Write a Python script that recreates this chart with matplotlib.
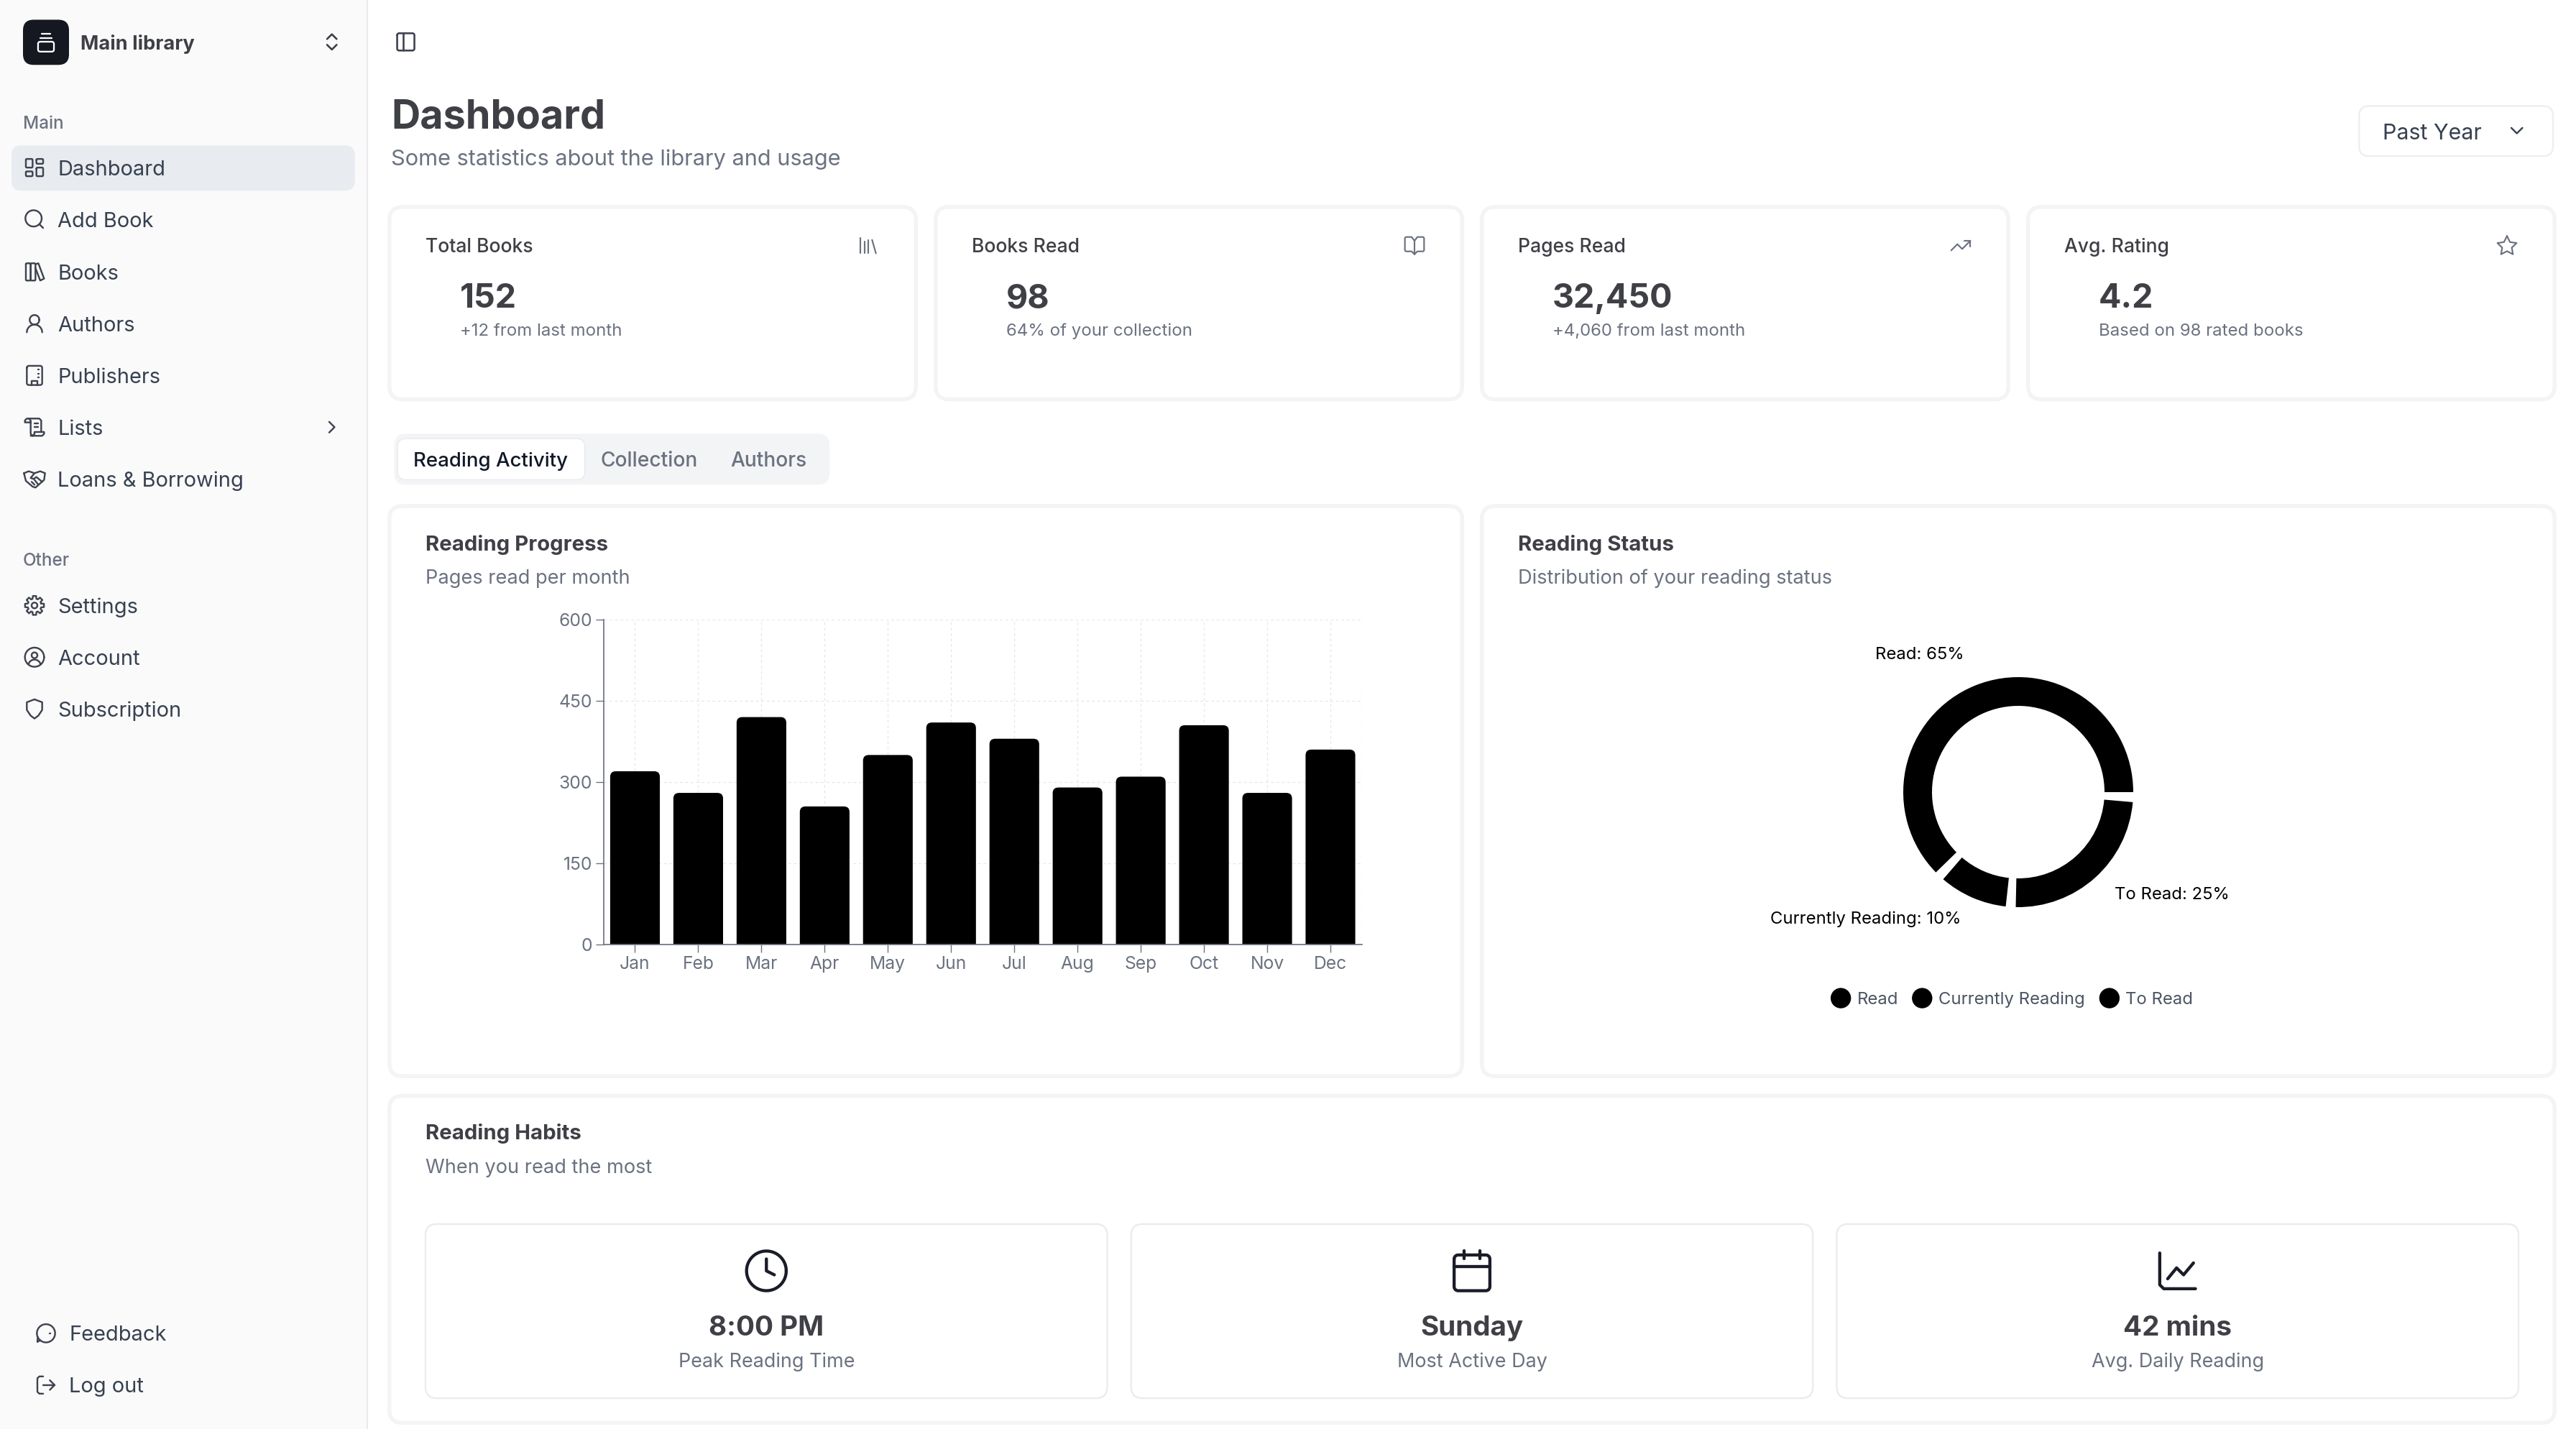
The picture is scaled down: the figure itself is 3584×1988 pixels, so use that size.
import numpy as np
import matplotlib
matplotlib.use('Agg')
import matplotlib.pyplot as plt
from matplotlib.patches import FancyBboxPatch, Wedge, Circle
from matplotlib.lines import Line2D

plt.rcParams['font.family'] = ['Inter', 'DejaVu Sans']

W, H = 3584, 1988
S = W / 1568      # one layout unit in image pixels
PT = S * 72 / 100  # one layout unit in points

months = ['Jan', 'Feb', 'Mar', 'Apr', 'May', 'Jun', 'Jul', 'Aug', 'Sep', 'Oct', 'Nov', 'Dec']
pages_read = [320, 280, 420, 255, 350, 410, 380, 290, 310, 405, 280, 360]
y_ticks = [0, 150, 300, 450, 600]

status_names = ['Read', 'Currently Reading', 'To Read']
status_values = [65, 10, 25]

nav_main = ['Dashboard', 'Add Book', 'Books', 'Authors', 'Publishers', 'Lists', 'Loans & Borrowing']
nav_other = ['Settings', 'Account', 'Subscription']
stat_titles = ['Total Books', 'Books Read', 'Pages Read', 'Avg. Rating']
stat_values = ['152', '98', '32,450', '4.2']
stat_notes = ['+12 from last month', '64% of your collection', '+4,060 from last month', 'Based on 98 rated books']
habit_values = ['8:00 PM', 'Sunday', '42 mins']
habit_labels = ['Peak Reading Time', 'Most Active Day', 'Avg. Daily Reading']

INK = '#3f4046'
DARK = '#374151'
MUTED = '#6b7280'
LINE = '#f3f4f6'
ICON = '#3f4350'

fig = plt.figure(figsize=(W / 100, H / 100), dpi=100, facecolor='white')
ui = fig.add_axes([0, 0, 1, 1])
ui.set_xlim(0, 1568)
ui.set_ylim(H / S, 0)
ui.axis('off')


def txt(x, y, s, size, color=INK, weight='normal', ha='left'):
    # y is the middle of the capitals, so mixed strings share one baseline
    ui.text(x, y + 0.36 * size, s, fontsize=size * PT, color=color, weight=weight,
            ha=ha, va='baseline', zorder=5)


def box(x0, y0, x1, y1, r=8, fc='white', ec='none', lw=0, z=1):
    ui.add_patch(FancyBboxPatch((x0, y0), x1 - x0, y1 - y0,
                                boxstyle=f'round,pad=0,rounding_size={r}',
                                fc=fc, ec=ec, lw=lw * PT, zorder=z))


def arc(cx, cy, r, a0=0, a1=360, n=48):
    t = np.radians(np.linspace(a0, a1, n))
    return list(zip(cx + r * np.cos(t), cy + r * np.sin(t)))


def rrect(x, y, w, h, r=1):
    return (arc(x + r, y + r, r, 180, 270, 6) + arc(x + w - r, y + r, r, 270, 360, 6)
            + arc(x + w - r, y + h - r, r, 0, 90, 6) + arc(x + r, y + h - r, r, 90, 180, 6)
            + [(x, y + r)])


def gear():
    pts = []
    for i in range(8):
        a = 45 * i
        for da, rad in [(-16, 7.2), (-10, 10), (10, 10), (16, 7.2)]:
            t = np.radians(a + da)
            pts.append((12 + rad * np.cos(t), 12 + rad * np.sin(t)))
    return pts + pts[:1]


# icons on a 24 unit grid, each one a list of polylines
ICONS = {
    'Dashboard': [rrect(3, 3, 7, 9), rrect(14, 3, 7, 5), rrect(14, 12, 7, 9), rrect(3, 16, 7, 5)],
    'Add Book': [arc(11, 11, 8.5), [(21, 21), (17, 17)]],
    'Books': [rrect(3, 3, 5, 18), rrect(8, 3, 5, 18), [(13, 4), (16, 3), (22, 19), (18, 21), (13, 8)]],
    'Authors': [arc(12, 8, 5), arc(12, 21, 8, 180, 360, 20)],
    'Publishers': [rrect(4, 2, 16, 20, 2), [(9, 22), (9, 18), (15, 18), (15, 22)],
                   [(8, 6), (8.2, 6)], [(12, 6), (12.2, 6)], [(16, 6), (16.2, 6)],
                   [(8, 10), (8.2, 10)], [(12, 10), (12.2, 10)], [(16, 10), (16.2, 10)],
                   [(8, 14), (8.2, 14)], [(12, 14), (12.2, 14)], [(16, 14), (16.2, 14)]],
    'Lists': [[(8, 21), (20, 21), (22, 19), (22, 17), (12, 17), (12, 19), (10, 21), (8, 19), (8, 5), (6, 3), (4, 3), (2, 5), (2, 7), (8, 7)],
              [(6, 3), (17, 3), (19, 5), (19, 17)], [(12, 8), (16, 8)], [(12, 12), (16, 12)]],
    'Loans & Borrowing': [[(1, 6), (6, 4), (12, 6), (18, 4), (23, 6), (22, 13), (13, 21), (10, 20), (3, 14), (1, 6)],
                          [(12, 6), (8, 11), (11, 12), (14, 10), (20, 15)], [(9, 15), (12, 18)], [(12, 13), (16, 18)]],
    'Settings': [gear(), arc(12, 12, 3)],
    'Account': [arc(12, 12, 10), arc(12, 10, 3), arc(12, 21, 6.5, 200, 340, 14)],
    'Subscription': [[(12, 2), (20, 5), (20, 13), (16, 19), (12, 22), (8, 19), (4, 13), (4, 5), (12, 2)]],
    'Feedback': [arc(12, 12, 9.5, 130, 490), [(5.9, 19.3), (3, 21), (3.4, 16)], [(8, 12), (8.2, 12)], [(12, 12), (12.2, 12)], [(16, 12), (16.2, 12)]],
    'Log out': [[(9, 21), (5, 21), (3, 19), (3, 5), (5, 3), (9, 3)], [(16, 17), (21, 12), (16, 7)], [(21, 12), (9, 12)]],
    'library': [[(16, 6), (20, 20)], [(12, 6), (12, 20)], [(8, 8), (8, 20)], [(4, 4), (4, 20)]],
    'book': [[(12, 7), (12, 21)], [(12, 7), (9, 3), (3, 3), (2, 4), (2, 17), (3, 18), (9, 18), (12, 21), (15, 18), (21, 18), (22, 17), (22, 4), (21, 3), (15, 3), (12, 7)]],
    'trend': [[(22, 7), (13.5, 15.5), (8.5, 10.5), (2, 17)], [(16, 7), (22, 7), (22, 13)]],
    'star': [[(12, 2), (15.1, 8.3), (22, 9.3), (17, 14.1), (18.2, 21), (12, 17.8), (5.8, 21), (7, 14.1), (2, 9.3), (8.9, 8.3), (12, 2)]],
    'panel': [rrect(3, 3, 18, 18, 2), [(9, 3), (9, 21)]],
    'updown': [[(7, 9), (12, 4), (17, 9)], [(7, 15), (12, 20), (17, 15)]],
    'right': [[(9, 6), (15, 12), (9, 18)]],
    'down': [[(6, 9), (12, 15), (18, 9)]],
    'clock': [arc(12, 12, 10), [(12, 6), (12, 12), (16, 14)]],
    'calendar': [rrect(3, 4, 18, 18, 2), [(16, 2), (16, 6)], [(8, 2), (8, 6)], [(3, 10), (21, 10)]],
    'chart': [[(3, 3), (3, 19), (5, 21), (21, 21)], [(7, 16), (11.5, 10.5), (15, 14), (20, 8)]],
    'logo': [rrect(4, 11, 16, 10, 2), [(6, 7), (18, 7)], [(8, 3), (16, 3)]],
}


def icon(name, cx, cy, size=14, color=ICON, lw=1.05):
    k = size / 24
    for pts in ICONS[name]:
        xs = [cx + (p[0] - 12) * k for p in pts]
        ys = [cy + (p[1] - 12) * k for p in pts]
        ui.add_line(Line2D(xs, ys, color=color, lw=lw * PT, zorder=6,
                           solid_capstyle='round', solid_joinstyle='round'))


# sidebar
ui.fill_between([0, 511 / S], 0, H / S, color='#fafafa', zorder=0, lw=0)
ui.plot([223.4, 223.4], [0, H / S], color='#e9eaec', lw=0.9 * PT, zorder=1)
box(14, 12, 42, 39.5, r=6.5, fc='#151821', z=2)
icon('logo', 28, 26, 14.5, color='white', lw=1.0)
txt(49, 26, 'Main library', 11.9, color=INK, weight='bold')
icon('updown', 202, 25.5, 14, color=INK, lw=1.15)

txt(14, 74.5, 'Main', 10.6, color=MUTED, weight='medium')
box(7, 88.5, 216, 116, r=6, fc='#e8ebef', z=1)
nav_y = [102, 133.5, 165.5, 197, 228.5, 260, 291.5]
for name, y in zip(nav_main, nav_y):
    icon(name, 21, y)
    txt(35, y, name, 12.7, color=DARK)
icon('right', 202, 260, 13, color=ICON)

txt(14, 340.5, 'Other', 10.6, color=MUTED, weight='medium')
for name, y in zip(nav_other, [368.5, 400, 431.5]):
    icon(name, 21, y)
    txt(35, y, name, 12.7, color=DARK)
for name, y in zip(['Feedback', 'Log out'], [811.5, 843]):
    icon(name, 28, y)
    txt(42, y, name, 12.7, color=DARK)

# header
icon('panel', 247, 25.5, 14, lw=1.15)
txt(238, 69.5, 'Dashboard', 24.4, color=INK, weight='bold')
txt(238, 96, 'Some statistics about the library and usage', 13.45, color=MUTED)
box(1436, 64.5, 1554, 95, r=6, ec='#eceef1', lw=1.0)
txt(1450.5, 80, 'Past Year', 13.3, color=DARK)
icon('down', 1532, 79.5, 13.5, color=DARK)

# stat cards
card_x = [237, 569.5, 902, 1234.5]
stat_icons = ['library', 'book', 'trend', 'star']
for x, title, val, note, ic in zip(card_x, stat_titles, stat_values, stat_notes, stat_icons):
    box(x, 126, x + 320.5, 243, ec=LINE, lw=2.4)
    txt(x + 22, 149.5, title, 11.6, color=INK, weight='medium')
    txt(x + 43, 180, val, 20.4, color=INK, weight='bold')
    txt(x + 43, 200.5, note, 10.5, color=MUTED)
    icon(ic, x + 291.5, 149.5, 14, color=MUTED, lw=0.95)

# tabs
box(240, 264, 505, 295, r=7, fc='#f3f4f6', z=1)
box(242, 267, 356, 292, r=5, fc='white', ec='#e6e8ec', lw=0.5, z=2)
txt(298.5, 279.5, 'Reading Activity', 12.1, color='#111827', ha='center', weight='medium')
txt(395, 279.5, 'Collection', 12.3, color=MUTED, ha='center', weight='medium')
txt(468, 279.5, 'Authors', 12.3, color=MUTED, ha='center', weight='medium')

# chart cards
box(237, 308, 890, 655, ec=LINE, lw=2.4)
box(902, 308, 1555, 655, ec=LINE, lw=2.4)
txt(259, 330.5, 'Reading Progress', 12.85, color=INK, weight='bold')
txt(259, 351, 'Pages read per month', 11.9, color=MUTED)
txt(924, 330.5, 'Reading Status', 12.85, color=INK, weight='bold')
txt(924, 351, 'Distribution of your reading status', 11.9, color=MUTED)

# bar chart, axes placed over the first chart card
ax = fig.add_axes([839.5 / W, 1 - 1314 / H, (1895 - 839.5) / W, (1314 - 862) / H], facecolor='none')
x_pos = np.arange(len(months))
ax.set_xlim(-0.5, 11.5)
ax.set_ylim(0, 600)
for xp, v in zip(x_pos, pages_read):
    # bottom corners stay below zero, clipped by the axes
    ax.add_patch(FancyBboxPatch((xp - 0.393, -40), 0.786, v + 40,
                                boxstyle='round,pad=0,rounding_size=0.09',
                                mutation_aspect=115, fc='black', ec='none', zorder=3))
ax.set_xticks(x_pos, months)
ax.set_yticks(y_ticks)
ax.grid(True, color='#e6e7ea', lw=0.55 * PT, linestyle=(0, (3, 3)), zorder=0)
ax.axvline(11.5, color='#e6e7ea', lw=0.55 * PT, linestyle=(0, (3, 3)), zorder=0)
ax.set_axisbelow(True)
for side in ['top', 'right']:
    ax.spines[side].set_visible(False)
for side in ['left', 'bottom']:
    ax.spines[side].set_color(MUTED)
    ax.spines[side].set_linewidth(0.75 * PT)
    ax.spines[side].set_zorder(4)
ax.tick_params(colors=MUTED, labelsize=10.8 * PT, length=5 * PT, width=0.6 * PT, pad=1.8 * PT)

# donut
R = 160
donut = fig.add_axes([(2808 - 300) / W, 1 - (1102 + 300) / H, 600 / W, 600 / H], facecolor='none')
donut.set_xlim(-300, 300)
donut.set_ylim(-300, 300)
donut.axis('off')
gap = 5
sweep = 360 - gap * len(status_values)
start = 0
for v in status_values:
    end = start + sweep * v / sum(status_values)
    # counter clockwise from the 3 o'clock point
    donut.add_patch(Wedge((0, 0), R, start, end, width=R * 0.25, fc='black', ec='none'))
    start = end + gap

txt(1168.5, 397.5, f'{status_names[0]}: {status_values[0]}%', 10.45, color='black', ha='center')
txt(1287, 543.5, f'{status_names[2]}: {status_values[2]}%', 10.45, color='black')
txt(1193.5, 558.5, f'{status_names[1]}: {status_values[1]}%', 10.45, color='black', ha='right')
for name, cx, tx in zip(status_names, [1120.5, 1170, 1284], [1130.5, 1180, 1293.5]):
    ui.add_patch(Circle((cx, 607.5), 6.2, fc='black', ec='none', zorder=5))
    txt(tx, 607.5, name, 10.45, color='#4b5563')

# reading habits
box(237, 667, 1555, 866, ec=LINE, lw=2.4)
txt(259, 689, 'Reading Habits', 12.85, color=INK, weight='bold')
txt(259, 709.5, 'When you read the most', 11.9, color=MUTED)
for x0, x1, val, lab, ic in zip([259, 688.5, 1118], [674, 1103.5, 1533], habit_values, habit_labels,
                                ['clock', 'calendar', 'chart']):
    box(x0, 745, x1, 851, r=7, ec='#e9ebef', lw=1.0)
    cx = (x0 + x1) / 2
    icon(ic, cx, 773.5, 29, color='#1a1d27', lw=1.9)
    txt(cx, 807, val, 16.9, color=INK, weight='bold', ha='center')
    txt(cx, 828, lab, 11.8, color=MUTED, ha='center')

fig.savefig('out.png', dpi=100)
